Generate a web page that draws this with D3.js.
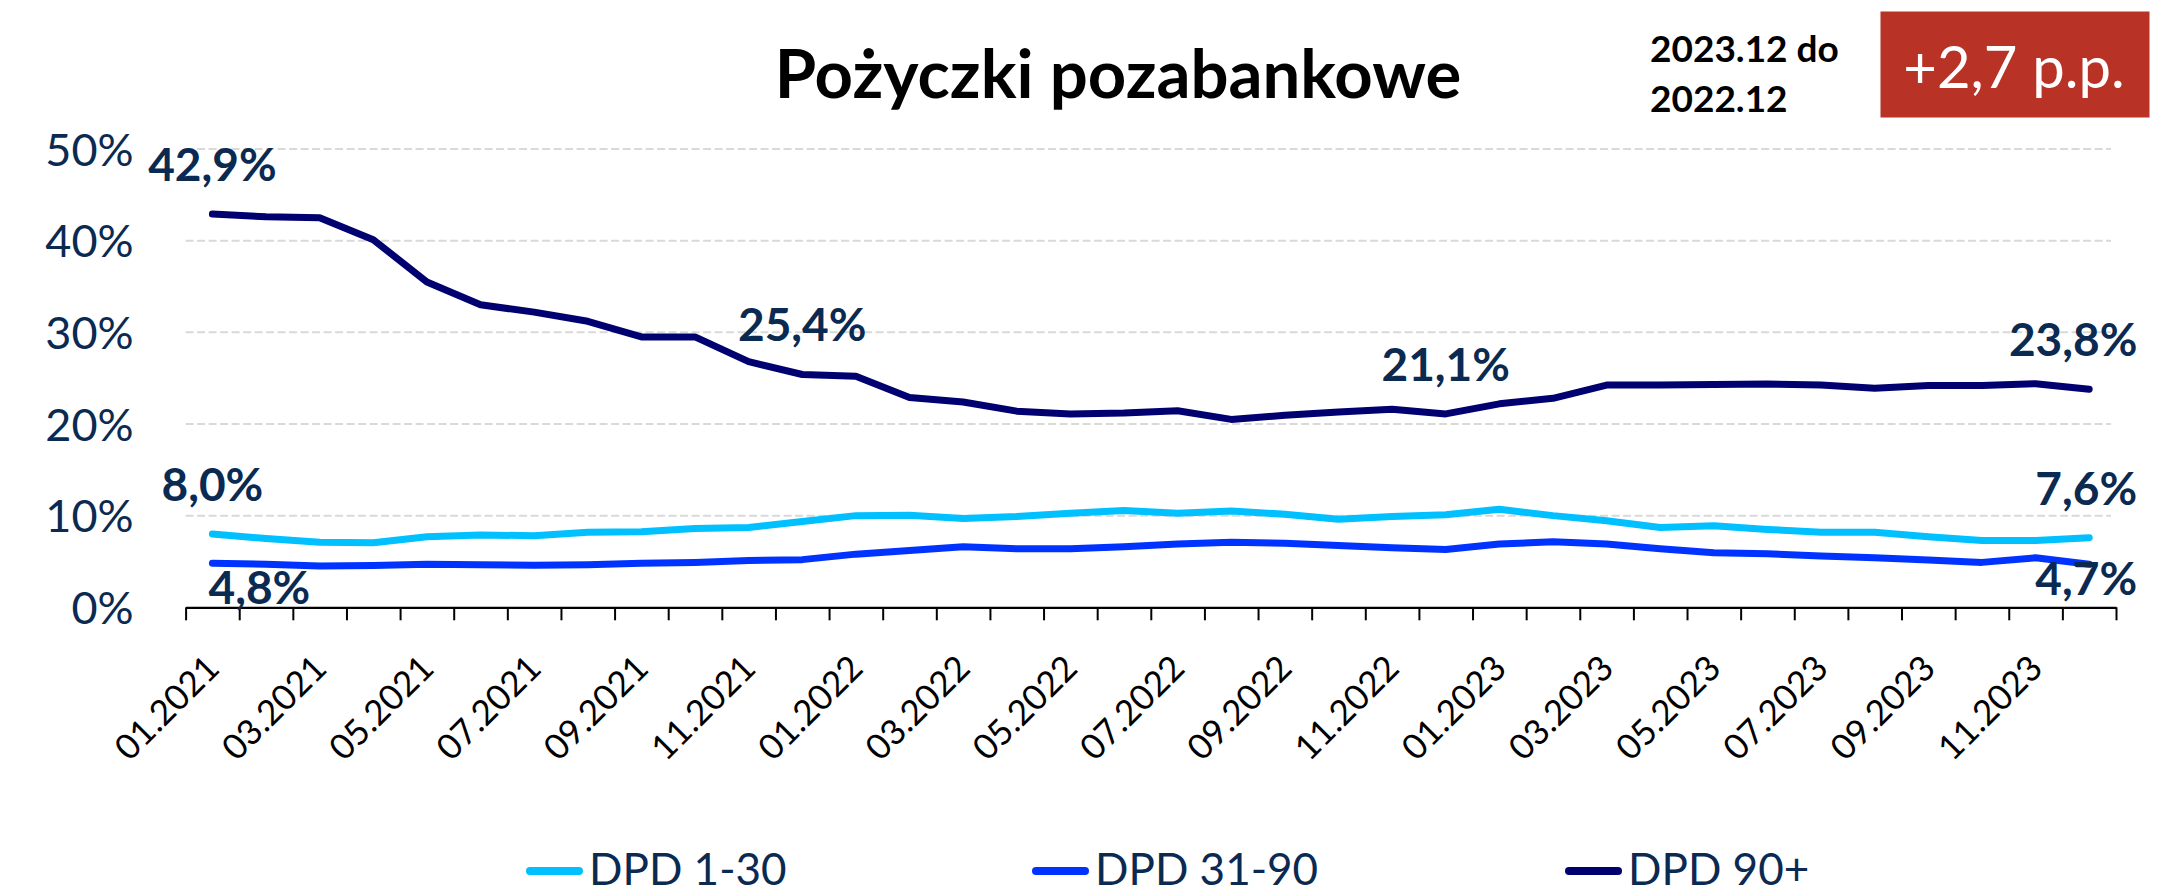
<!DOCTYPE html>
<html>
<head>
<meta charset="utf-8">
<script src="https://cdn.jsdelivr.net/npm/d3@7"></script>
<style>
  html, body { margin: 0; padding: 0; background: #ffffff; }
  svg { display: block; }
  text { font-family: Lato, "Open Sans", sans-serif; }
</style>
</head>
<body>
<script>
// Monthly categories (x axis)
const months = [
  "01.2021","02.2021","03.2021","04.2021","05.2021","06.2021","07.2021","08.2021","09.2021","10.2021","11.2021","12.2021",
  "01.2022","02.2022","03.2022","04.2022","05.2022","06.2022","07.2022","08.2022","09.2022","10.2022","11.2022","12.2022",
  "01.2023","02.2023","03.2023","04.2023","05.2023","06.2023","07.2023","08.2023","09.2023","10.2023","11.2023","12.2023"
];

// Share of loans in each delinquency bucket, %
const dpd1to30 = [8.0,7.5,7.1,7.05,7.7,7.9,7.8,8.2,8.25,8.6,8.7,9.35,
                  10.0,10.05,9.7,9.9,10.25,10.55,10.25,10.5,10.15,9.6,9.9,10.1,
                  10.7,10.0,9.45,8.7,8.9,8.5,8.2,8.2,7.7,7.3,7.3,7.6];
const dpd31to90 = [4.8,4.7,4.5,4.55,4.7,4.65,4.6,4.65,4.8,4.9,5.1,5.2,
                   5.8,6.2,6.6,6.4,6.4,6.6,6.9,7.1,7.0,6.75,6.5,6.3,
                   6.9,7.15,6.9,6.4,5.95,5.85,5.6,5.4,5.15,4.9,5.4,4.7];
const dpd90plus = [42.9,42.6,42.5,40.1,35.5,33.0,32.2,31.2,29.5,29.5,26.8,25.4,
                   25.2,22.9,22.4,21.4,21.1,21.2,21.45,20.5,20.95,21.3,21.6,21.1,
                   22.2,22.8,24.25,24.25,24.3,24.35,24.25,23.9,24.2,24.2,24.4,23.8];

const seriesNames = ["DPD 1-30", "DPD 31-90", "DPD 90+"];
const yTicks = [0, 10, 20, 30, 40, 50];

const titleText = "Pożyczki pozabankowe";
const periodLines = ["2023.12 do", "2022.12"];
const changeText = "+2,7 p.p.";

// Which points carry a value label
const labelled = [
  { s: 2, i: 0 }, { s: 2, i: 11 }, { s: 2, i: 23 }, { s: 2, i: 35 },
  { s: 0, i: 0 }, { s: 0, i: 35 },
  { s: 1, i: 0 }, { s: 1, i: 35 }
];

// ---- styling ----
const W = 2172, H = 893;
const colors = ["#00C0FF", "#0033FF", "#000070"];
const textNavy = "#0B2A52";
const lineWidth = 7;

const series = [dpd1to30, dpd31to90, dpd90plus];

const svg = d3.select("body").append("svg")
  .attr("width", W).attr("height", H)
  .attr("viewBox", `0 0 ${W} ${H}`);

svg.append("rect").attr("width", W).attr("height", H).attr("fill", "#fff");

const plotLeft = 185.6, plotRight = 2116, gridRight = 2111;
const x = d3.scaleBand().domain(months).range([plotLeft, plotRight]).padding(0);
const xEdge = d3.scaleLinear().domain([0, months.length]).range([plotLeft, plotRight]);
const y = d3.scaleLinear().domain([0, 50]).range([607.3, 149]);
const cx = i => x(months[i]) + x.bandwidth() / 2;

// gridlines
svg.append("g")
  .selectAll("line")
  .data(yTicks.filter(t => t > 0))
  .join("line")
  .attr("x1", plotLeft).attr("x2", gridRight)
  .attr("y1", d => y(d)).attr("y2", d => y(d))
  .attr("stroke", "#D9D9D9").attr("stroke-width", 2)
  .attr("stroke-dasharray", "8,3.5");

// y axis labels
const yAxis = svg.append("g")
  .attr("transform", `translate(${plotLeft},0)`)
  .call(d3.axisLeft(y).tickValues(yTicks).tickFormat(d => d + "%").tickSize(0).tickPadding(52));
yAxis.select(".domain").remove();
yAxis.selectAll("text")
  .attr("font-family", "Lato").attr("font-size", 45).attr("fill", textNavy)
  .attr("dy", "0.36em");

// x axis line and ticks at category boundaries
const xAxis = svg.append("g")
  .attr("transform", `translate(0,${y(0)})`)
  .call(d3.axisBottom(xEdge).tickValues(d3.range(months.length + 1)).tickFormat("").tickSize(13).tickSizeOuter(0));
xAxis.select(".domain").attr("stroke", "#000").attr("stroke-width", 2.2);
xAxis.selectAll(".tick line").attr("stroke", "#000").attr("stroke-width", 2);

// rotated month labels (every second month)
svg.append("g")
  .selectAll("text")
  .data(months.map((m, i) => ({ m, i })).filter(d => d.i % 2 === 0))
  .join("text")
  .attr("transform", d => `translate(${cx(d.i) + 9},${y(0) + 63}) rotate(-45)`)
  .attr("text-anchor", "end")
  .attr("font-size", 35)
  .attr("fill", "#000")
  .text(d => d.m);

// series lines
const line = d3.line().x((d, i) => cx(i)).y(d => y(d));
svg.append("g")
  .selectAll("path")
  .data(series)
  .join("path")
  .attr("d", d => line(d))
  .attr("fill", "none")
  .attr("stroke", (d, i) => colors[i])
  .attr("stroke-width", lineWidth)
  .attr("stroke-linejoin", "round")
  .attr("stroke-linecap", "round");

// value labels
const fmt = v => d3.format(".1f")(v).replace(".", ",") + "%";
const place = (s, i) => {
  const last = i === months.length - 1;
  if (s === 1) return { dx: last ? -3 : 47, dy: last ? 31 : 41 };
  if (s === 2 && last) return { dx: -16, dy: -33 };
  if (last) return { dx: -3, dy: -33 };
  return { dx: 0, dy: -33 };
};
svg.append("g")
  .selectAll("text")
  .data(labelled)
  .join("text")
  .attr("x", d => cx(d.i) + place(d.s, d.i).dx)
  .attr("y", d => y(series[d.s][d.i]) + place(d.s, d.i).dy)
  .attr("text-anchor", "middle")
  .attr("font-size", 46)
  .attr("font-weight", "bold")
  .attr("fill", textNavy)
  .text(d => fmt(series[d.s][d.i]));

// title
svg.append("text")
  .attr("x", 1118).attr("y", 98)
  .attr("text-anchor", "middle")
  .attr("font-size", 67).attr("font-weight", "bold").attr("fill", "#000")
  .text(titleText);

// comparison period
svg.append("g")
  .selectAll("text")
  .data(periodLines)
  .join("text")
  .attr("x", 1650).attr("y", (d, i) => 62 + i * 50)
  .attr("font-size", 37).attr("font-weight", "bold").attr("fill", "#000")
  .text(d => d);

// change badge
svg.append("rect")
  .attr("x", 1880.5).attr("y", 11.5).attr("width", 269).attr("height", 106)
  .attr("fill", "#B83226");
svg.append("text")
  .attr("x", 2014).attr("y", 88)
  .attr("text-anchor", "middle")
  .attr("font-size", 58).attr("fill", "#fff")
  .text(changeText);

// legend
const legendX = [526, 1032, 1565];
const legend = svg.append("g")
  .selectAll("g")
  .data(seriesNames)
  .join("g")
  .attr("transform", (d, i) => `translate(${legendX[i]},871)`);
legend.append("line")
  .attr("x1", 4).attr("x2", 53)
  .attr("stroke", (d, i) => colors[i])
  .attr("stroke-width", 8).attr("stroke-linecap", "round");
legend.append("text")
  .attr("x", 63).attr("y", 14)
  .attr("font-size", 44).attr("fill", textNavy)
  .text(d => d);
</script>
</body>
</html>
